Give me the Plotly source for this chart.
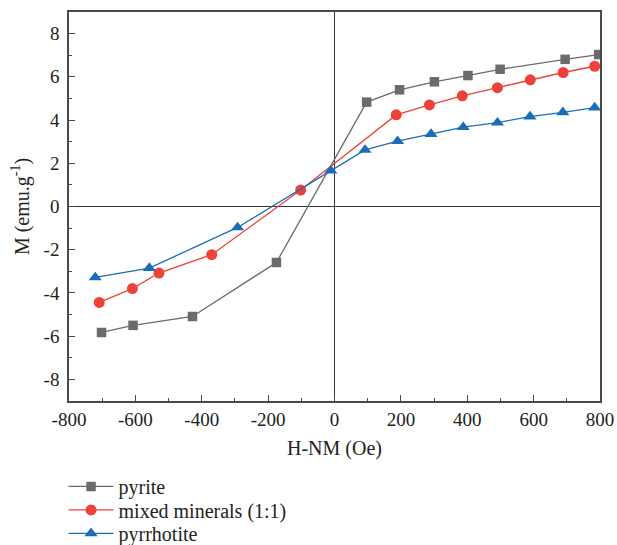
import plotly.graph_objects as go

pyrite_x = [-702, -607, -428, -175, 97, 196, 301, 402, 499, 695, 796]
pyrite_y = [-5.83, -5.50, -5.09, -2.59, 4.83, 5.40, 5.77, 6.06, 6.35, 6.81, 7.03]

mixed_x = [-709, -609, -529, -370, -102, 186, 286, 385, 491, 590, 689, 784]
mixed_y = [-4.44, -3.80, -3.08, -2.23, 0.76, 4.24, 4.70, 5.12, 5.50, 5.86, 6.20, 6.49]

pyrr_x = [-721, -558, -292, -11, 92, 190, 291, 388, 491, 589, 688, 784]
pyrr_y = [-3.28, -2.85, -0.97, 1.66, 2.62, 3.02, 3.35, 3.67, 3.88, 4.16, 4.36, 4.58]

x_ticks = [-800, -600, -400, -200, 0, 200, 400, 600, 800]
x_labels = ["-800", "-600", "-400", "-200", "0", "200", "400", "600", "800"]
y_ticks = [-8, -6, -4, -2, 0, 2, 4, 6, 8]
y_labels = ["-8", "-6", "-4", "-2", "0", "2", "4", "6", "8"]

FONT = "Liberation Serif"
GRAY = "#6b6b6d"
RED = "#ee4238"
BLUE = "#1b6db8"
TXT = "#222"

fig = go.Figure()
fig.add_trace(go.Scatter(x=pyrite_x, y=pyrite_y, mode="lines+markers", name="pyrite",
                         line=dict(color=GRAY, width=1.3), legend="legend",
                         marker=dict(symbol="square", size=9.5, color=GRAY)))
fig.add_trace(go.Scatter(x=mixed_x, y=mixed_y, mode="lines+markers", name="mixed minerals (1:1)",
                         line=dict(color=RED, width=1.3), legend="legend2",
                         marker=dict(symbol="circle", size=11, color=RED)))
fig.add_trace(go.Scatter(x=pyrr_x, y=pyrr_y, mode="lines+markers", name="pyrrhotite",
                         line=dict(color=BLUE, width=1.3), legend="legend3",
                         marker=dict(symbol="triangle-up", size=11.5, color=BLUE)))

axis_common = dict(showgrid=False, showline=True, linecolor="#4a4a4a", linewidth=1.6,
                   mirror=True, ticks="inside", ticklen=6, tickwidth=1.3, tickcolor="#4a4a4a",
                   zeroline=True, zerolinecolor="#333", zerolinewidth=1.3, automargin=False,
                   tickfont=dict(family=FONT, size=19, color=TXT))

fig.update_xaxes(range=[-800, 800], tickvals=x_ticks, ticktext=x_labels,
                 minor=dict(dtick=100, ticks="inside", ticklen=3, tickcolor="#4a4a4a", tickwidth=1.2),
                 title=dict(text="H-NM (Oe)", font=dict(family=FONT, size=20, color=TXT), standoff=12),
                 **axis_common)
fig.update_yaxes(range=[-9, 9], tickvals=y_ticks, ticktext=y_labels,
                 minor=dict(dtick=1, ticks="inside", ticklen=3, tickcolor="#4a4a4a", tickwidth=1.2),
                 ticklabelstandoff=4,
                 title=dict(text="M (emu.g<sup>-1</sup>)", font=dict(family=FONT, size=20, color=TXT), standoff=9),
                 **axis_common)

leg = dict(x=-0.0103, xanchor="left", yanchor="middle", itemwidth=45,
           font=dict(family=FONT, size=20, color=TXT), bgcolor="rgba(0,0,0,0)")

fig.update_layout(
    width=617, height=545,
    margin=dict(l=68.5, r=17, t=12, b=143.5, autoexpand=False),
    plot_bgcolor="white", paper_bgcolor="white",
    showlegend=True,
    legend=dict(y=-0.2195, **leg),
    legend2=dict(y=-0.2799, **leg),
    legend3=dict(y=-0.3402, **leg),
)

fig.write_html("out.html", config={"displayModeBar": False},
               post_script="document.body.style.margin='0px';document.body.style.overflow='hidden';")
